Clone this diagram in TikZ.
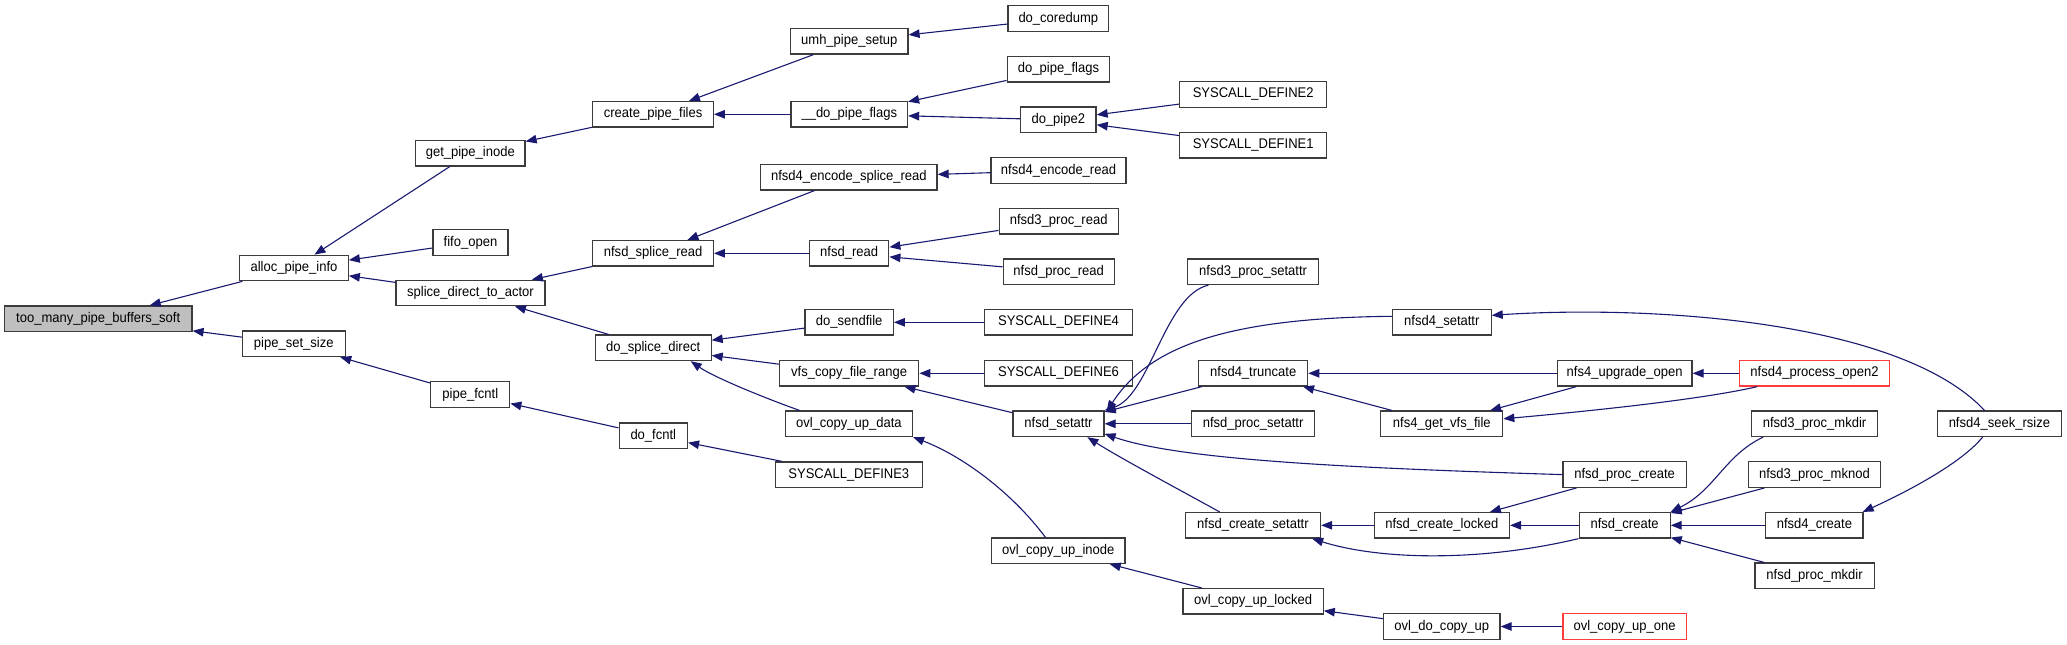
\documentclass[tikz,border=0pt]{standalone}
\usepackage{fontspec}
\setmainfont[FakeStretch=0.93]{Liberation Sans}
\usetikzlibrary{arrows.meta,calc}
\definecolor{edgec}{RGB}{25,25,112}
\definecolor{bordc}{RGB}{60,60,60}
\definecolor{redc}{RGB}{255,60,60}
\definecolor{grayf}{RGB}{191,191,191}
\begin{document}
\begin{tikzpicture}[x=1pt,y=-1pt,
 fn/.style={draw=bordc, line width=1.2pt, fill=white, minimum height=25.5pt, inner sep=0pt,
   font=\fontsize{14}{16}\selectfont, text=black, anchor=center},
 hl/.style={fill=grayf},
 rn/.style={draw=redc},
 edge/.style={draw=edgec, line width=1.1pt, -{Triangle[length=11pt,width=8.5pt]}}]
\useasboundingbox (0,0) rectangle (2067,645);
% column 1
\node[fn,hl,minimum width=187.5pt] (too) at (98.2,318.7) {too\_many\_pipe\_buffers\_soft};
% column 2
\node[fn,minimum width=108.5pt] (alloc) at (294,268) {alloc\_pipe\_info};
\node[fn,minimum width=102.7pt] (pss) at (293.8,343.8) {pipe\_set\_size};
% column 3
\node[fn,minimum width=109.4pt] (gpi) at (470.3,153.2) {get\_pipe\_inode};
\node[fn,minimum width=75pt] (fifo) at (470.5,242.5) {fifo\_open};
\node[fn,minimum width=149pt] (sdta) at (470.5,293) {splice\_direct\_to\_actor};
\node[fn,minimum width=79pt] (pfc) at (470.3,394.5) {pipe\_fcntl};
% column 4
\node[fn,minimum width=120.5pt] (cpf) at (653.1,114.3) {create\_pipe\_files};
\node[fn,minimum width=120.5pt] (nsr0) at (653.1,253.3) {nfsd\_splice\_read};
\node[fn,minimum width=116pt] (dsd) at (653.1,347.8) {do\_splice\_direct};
\node[fn,minimum width=68.3pt] (dfc) at (653.3,435.7) {do\_fcntl};
% column 5
\node[fn,minimum width=117.4pt] (umh) at (849.3,41.3) {umh\_pipe\_setup};
\node[fn,minimum width=116.5pt] (ddpf) at (849.3,114.3) {\_\_do\_pipe\_flags};
\node[fn,minimum width=176.3pt] (nesr) at (848.9,177.2) {nfsd4\_encode\_splice\_read};
\node[fn,minimum width=79.4pt] (nrd) at (849.1,253.3) {nfsd\_read};
\node[fn,minimum width=88.4pt] (dsf) at (849.1,322.3) {do\_sendfile};
\node[fn,minimum width=139.3pt] (vcfr) at (849.1,373.3) {vfs\_copy\_file\_range};
\node[fn,minimum width=127.2pt] (ocud) at (848.9,423.8) {ovl\_copy\_up\_data};
\node[fn,minimum width=146.9pt] (sd3) at (848.8,474.7) {SYSCALL\_DEFINE3};
% column 6
\node[fn,minimum width=100.5pt] (dcd) at (1058.3,18.5) {do\_coredump};
\node[fn,minimum width=102.7pt] (dpf) at (1058.5,69.3) {do\_pipe\_flags};
\node[fn,minimum width=75.5pt] (dp2) at (1058.3,119.8) {do\_pipe2};
\node[fn,minimum width=134.9pt] (ner) at (1058.5,170.5) {nfsd4\_encode\_read};
\node[fn,minimum width=119.2pt] (n3pr) at (1058.7,221.2) {nfsd3\_proc\_read};
\node[fn,minimum width=111.2pt] (npr) at (1058.7,271.8) {nfsd\_proc\_read};
\node[fn,minimum width=147.3pt] (sd4) at (1058.5,322.3) {SYSCALL\_DEFINE4};
\node[fn,minimum width=147.3pt] (sd6) at (1058.5,373.3) {SYSCALL\_DEFINE6};
\node[fn,minimum width=91pt] (nsa) at (1058.5,423.8) {nfsd\_setattr};
\node[fn,minimum width=133.5pt] (ocui) at (1058.3,550.7) {ovl\_copy\_up\_inode};
% column 7
\node[fn,minimum width=147.3pt] (sd2) at (1253.2,94.5) {SYSCALL\_DEFINE2};
\node[fn,minimum width=147.3pt] (sd1) at (1253.2,145.2) {SYSCALL\_DEFINE1};
\node[fn,minimum width=131.3pt] (n3ps) at (1253.1,271.8) {nfsd3\_proc\_setattr};
\node[fn,minimum width=108.9pt] (n4t) at (1253.2,373.3) {nfsd4\_truncate};
\node[fn,minimum width=123.2pt] (nps) at (1253.1,423.8) {nfsd\_proc\_setattr};
\node[fn,minimum width=135.3pt] (ncs) at (1252.9,525.3) {nfsd\_create\_setattr};
\node[fn,minimum width=140.2pt] (ocul) at (1253.1,601.3) {ovl\_copy\_up\_locked};
% column 8
\node[fn,minimum width=98.7pt] (n4sa) at (1441.8,322.3) {nfsd4\_setattr};
\node[fn,minimum width=121.9pt] (ngvf) at (1441.8,423.8) {nfs4\_get\_vfs\_file};
\node[fn,minimum width=135.3pt] (ncl) at (1441.8,525.3) {nfsd\_create\_locked};
\node[fn,minimum width=116.5pt] (odcu) at (1441.8,626.5) {ovl\_do\_copy\_up};
% column 9
\node[fn,minimum width=134.8pt] (nuo) at (1624.6,373.3) {nfs4\_upgrade\_open};
\node[fn,minimum width=123.2pt] (npc) at (1624.6,474.6) {nfsd\_proc\_create};
\node[fn,minimum width=91pt] (ncr) at (1624.6,525.3) {nfsd\_create};
\node[fn,rn,minimum width=123.2pt] (ocuo) at (1624.6,626.5) {ovl\_copy\_up\_one};
% column 10
\node[fn,rn,minimum width=149.5pt] (npo) at (1814.5,373.3) {nfsd4\_process\_open2};
\node[fn,minimum width=125.5pt] (n3pm) at (1814.5,423.8) {nfsd3\_proc\_mkdir};
\node[fn,minimum width=132.1pt] (n3pk) at (1814.4,474.6) {nfsd3\_proc\_mknod};
\node[fn,minimum width=97.3pt] (n4c) at (1814.4,525.3) {nfsd4\_create};
\node[fn,minimum width=119.2pt] (npm) at (1814.5,575.8) {nfsd\_proc\_mkdir};
% column 11
\node[fn,minimum width=124.5pt] (nsrs) at (1999.4,423.8) {nfsd4\_seek\_rsize};

% straight edges
\draw[edge] (alloc) -- (too);
\draw[edge] (pss) -- (too);
\draw[edge] (gpi) -- (alloc);
\draw[edge] (fifo) -- (alloc);
\draw[edge] (sdta) -- (alloc);
\draw[edge] (pfc) -- (pss);
\draw[edge] (cpf) -- (gpi);
\draw[edge] (nsr0) -- (sdta);
\draw[edge] (dsd) -- (sdta);
\draw[edge] (dfc) -- (pfc);
\draw[edge] (umh) -- (cpf);
\draw[edge] (ddpf) -- (cpf);
\draw[edge] (nesr) -- (nsr0);
\draw[edge] (nrd) -- (nsr0);
\draw[edge] (dsf) -- (dsd);
\draw[edge] (vcfr) -- (dsd);
\draw[edge] (sd3) -- (dfc);
\draw[edge] (dcd) -- (umh);
\draw[edge] (dpf) -- (ddpf);
\draw[edge] (dp2) -- (ddpf);
\draw[edge] (ner) -- (nesr);
\draw[edge] (n3pr) -- (nrd);
\draw[edge] (npr) -- (nrd);
\draw[edge] (sd4) -- (dsf);
\draw[edge] (sd6) -- (vcfr);
\draw[edge] (nsa) -- (vcfr);
\draw[edge] (sd2) -- (dp2);
\draw[edge] (sd1) -- (dp2);
\draw[edge] (n4t) -- (nsa);
\draw[edge] (nps) -- (nsa);
\draw[edge] (ocul) -- (ocui);
\draw[edge] (nuo) -- (n4t);
\draw[edge] (ngvf) -- (n4t);
\draw[edge] (ncl) -- (ncs);
\draw[edge] (odcu) -- (ocul);
\draw[edge] (nuo) -- (ngvf);
\draw[edge] (npc) -- (ncl);
\draw[edge] (ncr) -- (ncl);
\draw[edge] (ocuo) -- (odcu);
\draw[edge] (npo) -- (nuo);
\draw[edge] (n3pk) -- (ncr);
\draw[edge] (n4c) -- (ncr);
\draw[edge] (npm) -- (ncr);

% curved edges
\draw[edge] ($(n3ps.south west)+(21.5,0)$) .. controls (1165,295) and (1150,395) .. (nsa.north east);
\draw[edge] ($(n4sa.west)+(0,-6)$) .. controls (1230,318) and (1150,345) .. ($(nsa.north east)+(2,1)$);
\draw[edge] (npc.west) .. controls (1350,468) and (1180,460) .. ($(nsa.east)+(0,10)$);
\draw[edge] ($(ncs.north west)+(35,0)$) .. controls (1180,490) and (1120,458) .. ($(nsa.south west)+(75,0)$);
\draw[edge] ($(ocui.north west)+(54.5,0)$) .. controls (1010,490) and (960,455) .. (ocud.south east);
\draw[edge] ($(ocud.north west)+(15,0)$) .. controls (770,400) and (715,378) .. ($(dsd.south east)+(-21,0)$);
\draw[edge] (ncr.south west) .. controls (1480,562) and (1380,560) .. ($(ncs.south east)+(-9,0)$);
\draw[edge] ($(npo.south west)+(18,0)$) .. controls (1700,400) and (1580,412) .. ($(ngvf.east)+(0,-5)$);
\draw[edge] ($(nsrs.north west)+(48,0)$) .. controls (1900,320) and (1650,305) .. ($(n4sa.east)+(0,-7)$);
\draw[edge] ($(nsrs.south west)+(46,0)$) .. controls (1960,465) and (1900,495) .. ($(n4c.north east)+(-1,0)$);
\draw[edge] ($(n3pm.south west)+(12,0)$) .. controls (1725,455) and (1715,490) .. (ncr.north east);
\end{tikzpicture}
\end{document}
